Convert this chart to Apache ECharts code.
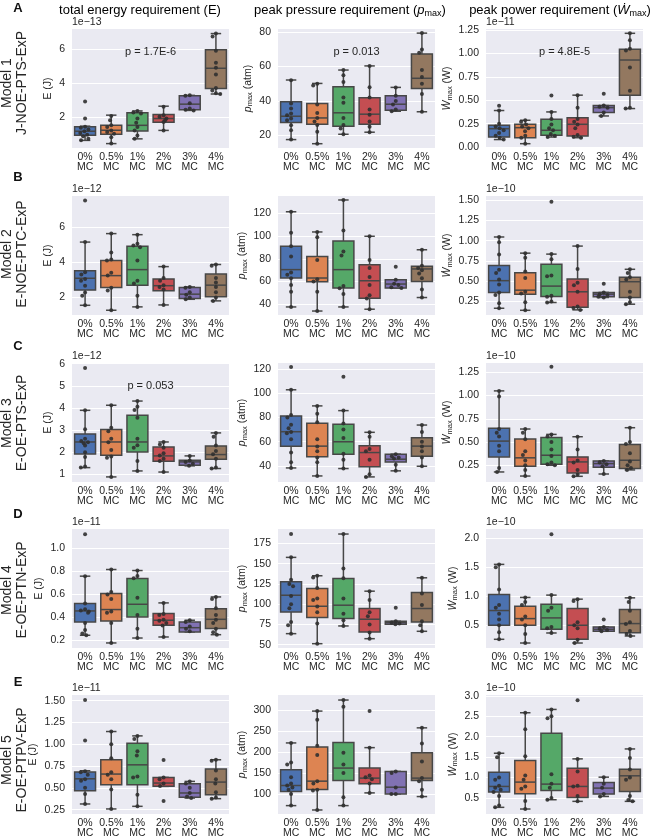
<!DOCTYPE html>
<html>
<head>
<meta charset="utf-8">
<script src="https://cdn.jsdelivr.net/npm/echarts@6/dist/echarts.min.js"></script>
<style>
  html, body { margin: 0; padding: 0; background: #fff; }
  #chart { width: 656px; height: 840px; }
</style>
</head>
<body>
<div id="chart"></div>
<script>
  var categories = ['0%\nMC', '0.5%\nMC', '1%\nMC', '2%\nMC', '3%\nMC', '4%\nMC']
  var modelNames = ['Model 1\nJ-NOE-PTS-ExP', 'Model 2\nE-NOE-PTC-ExP', 'Model 3\nE-OE-PTS-ExP', 'Model 4\nE-OE-PTN-ExP', 'Model 5\nE-OE-PTPV-ExP']
  var rowLetters = ['A', 'B', 'C', 'D', 'E']
  var energyExp = ['1e\u221213', '1e\u221212', '1e\u221212', '1e\u221211', '1e\u221211']
  var powerExp = ['1e\u221211', '1e\u221210', '1e\u221210', '1e\u221210', '1e\u221210']
  var pValues = [
    ['p = 1.7E-6', 'p = 0.013', 'p = 4.8E-5'],
    ['', '', ''],
    ['p = 0.053', '', ''],
    ['', '', ''],
    ['', '', ''],
  ]

  // box stats per group: [lower whisker, Q1, median, Q3, upper whisker]
  // Model 1
  var eBox1 = [[0.61, 0.91, 1.15, 1.41, 1.45], [0.42, 0.97, 1.21, 1.5, 2.1], [0.7, 1.17, 1.5, 2.24, 2.35], [1.2, 1.68, 1.9, 2.14, 2.63], [2.38, 2.42, 2.75, 3.25, 3.27], [3.35, 3.68, 4.87, 5.96, 6.92]]
  var ePts1 = [[2.9, 1.9, 1.42, 1.35, 1.25, 1.15, 1.05, 0.95, 0.85, 0.7, 0.62], [2.05, 1.8, 1.5, 1.4, 1.2, 1.1, 1.0, 0.8, 0.42], [2.35, 2.25, 2.2, 1.9, 1.65, 1.4, 1.2, 0.9, 0.7], [2.6, 2.1, 2.0, 1.9, 1.8, 1.7, 1.2], [3.27, 3.25, 2.8, 2.5, 2.42, 2.38], [6.92, 6.75, 5.9, 5.2, 4.9, 4.5, 3.7, 3.55, 3.4, 3.35]]
  var pBox1 = [[17.5, 27.4, 31.1, 39.5, 52.2], [15.1, 26.4, 30.1, 38.5, 50.2], [20.6, 25.3, 33.1, 48.3, 58], [21.8, 26.4, 32.3, 41.9, 60.4], [34, 34.6, 38.1, 43, 47.9], [33.7, 47.3, 53.2, 67.4, 79.5]]
  var pPts1 = [[52, 38.5, 35.6, 32.7, 31.7, 29.8, 28.8, 25.9, 23, 17.5], [50, 49, 38, 33, 30, 28, 26, 22, 15.1], [58, 55, 51, 42, 39, 30, 26, 24, 20.6], [60.4, 48, 42, 35, 32, 28, 25, 21.8], [47.9, 43, 40, 38, 35, 34], [79.5, 70, 68, 58, 54, 50, 44, 33.7]]
  var wBox1 = [[0.08, 0.107, 0.196, 0.232, 0.39], [0.036, 0.1, 0.207, 0.243, 0.286], [0.107, 0.125, 0.179, 0.296, 0.375], [0.1, 0.118, 0.243, 0.314, 0.554], [0.332, 0.368, 0.421, 0.443, 0.443], [0.411, 0.554, 0.929, 1.043, 1.214]]
  var wPts1 = [[0.44, 0.39, 0.25, 0.22, 0.2, 0.18, 0.15, 0.12, 0.1, 0.08], [0.286, 0.27, 0.24, 0.22, 0.2, 0.17, 0.12, 0.1, 0.036], [0.55, 0.375, 0.3, 0.24, 0.2, 0.18, 0.14, 0.12, 0.107], [0.554, 0.42, 0.3, 0.27, 0.24, 0.2, 0.13, 0.11, 0.1], [0.57, 0.443, 0.43, 0.42, 0.37, 0.332], [1.214, 1.14, 1.05, 1.03, 0.85, 0.6, 0.42, 0.411]]
  // Model 2
  var eBox2 = [[1.56, 2.42, 3.09, 3.52, 5.14], [1.28, 2.57, 3.24, 4.1, 5.62], [1.47, 2.7, 3.58, 4.9, 5.56], [1.58, 2.38, 2.67, 3.05, 3.75], [1.9, 1.94, 2.19, 2.57, 2.6], [1.81, 2.04, 2.7, 3.33, 3.87]]
  var ePts2 = [[7.49, 5.14, 3.43, 3.3, 3.05, 2.95, 2.67, 2.29, 2.1, 1.56], [5.62, 4.55, 4.15, 4.1, 3.4, 3.25, 2.55, 2.4, 1.28], [5.56, 5.05, 4.95, 4.85, 4.1, 2.95, 2.8, 2.1, 1.47], [3.75, 3.1, 2.95, 2.7, 2.6, 2.45, 1.58], [2.6, 2.55, 2.3, 2.15, 2.0, 1.9], [3.87, 3.8, 3.1, 2.85, 2.6, 2.3, 2.0, 1.81]]
  var pBox2 = [[37.6, 63.1, 70.5, 91, 121.5], [34, 59.9, 63.1, 82, 103.7], [37.6, 54.2, 70.5, 95.7, 131.9], [35.6, 45.3, 60.7, 74.7, 99.9], [54.2, 54.2, 57.8, 61.6, 61.6], [45.9, 60.1, 71.1, 73.5, 88]]
  var pPts2 = [[121.5, 103, 91, 82, 68, 66, 63, 57, 51, 37.6], [103.7, 99, 79, 62, 60, 51, 34], [131.9, 105, 86.5, 83, 56, 54, 49, 37.6], [99.9, 79, 72, 64, 57, 48, 45, 35.6], [73, 61.6, 58, 57, 55, 54.2], [88, 74, 72, 70, 67, 63, 53, 45.9]]
  var wBox2 = [[0.167, 0.362, 0.507, 0.693, 1.045], [0.142, 0.341, 0.39, 0.606, 0.846], [0.238, 0.312, 0.44, 0.709, 0.834], [0.147, 0.18, 0.37, 0.527, 0.933], [0.3, 0.308, 0.341, 0.362, 0.362], [0.217, 0.3, 0.494, 0.548, 0.647]]
  var wPts2 = [[1.045, 0.98, 0.83, 0.64, 0.6, 0.52, 0.46, 0.36, 0.33, 0.23, 0.167], [0.846, 0.79, 0.62, 0.54, 0.37, 0.35, 0.24, 0.142], [1.48, 0.834, 0.77, 0.57, 0.56, 0.32, 0.31, 0.25, 0.238], [0.933, 0.65, 0.48, 0.45, 0.37, 0.19, 0.17, 0.147], [0.47, 0.36, 0.34, 0.33, 0.31, 0.3], [0.647, 0.6, 0.55, 0.52, 0.37, 0.3, 0.24, 0.217]]
  // Model 3
  var eBox3 = [[1.3, 1.92, 2.46, 2.82, 3.89], [0.88, 1.86, 2.46, 3.02, 4.12], [1.15, 2.01, 2.46, 3.67, 4.31], [1.1, 1.59, 1.83, 2.23, 2.46], [1.38, 1.41, 1.56, 1.63, 1.83], [1.26, 1.68, 1.89, 2.28, 2.87]]
  var ePts3 = [[5.8, 3.89, 3.03, 2.6, 2.5, 2.45, 2.4, 2.3, 2.0, 1.78, 1.35, 1.3], [4.12, 3.1, 2.95, 2.6, 2.45, 2.1, 1.8, 1.75, 0.88], [4.31, 4.05, 3.9, 3.55, 2.6, 2.31, 2.2, 1.6, 1.15], [2.46, 2.35, 2.2, 1.95, 1.85, 1.7, 1.6, 1.1], [1.83, 1.62, 1.55, 1.48, 1.38], [2.87, 2.7, 2.3, 2.05, 1.9, 1.7, 1.3, 1.26]]
  var pBox3 = [[38.3, 56.3, 68.2, 81.2, 102.8], [31.7, 47.5, 56.3, 75.1, 89.5], [37.8, 49.7, 59.9, 74.3, 85.6], [30.9, 39.2, 51, 56.6, 67.7], [35.9, 43.3, 45.5, 49.7, 49.7], [39.7, 48, 56.3, 63.2, 73.7]]
  var pPts3 = [[121.5, 102.8, 82, 80, 74, 71, 68, 67, 62, 51, 43, 38.3], [89.5, 83, 76, 62, 56, 52, 47, 43, 31.7], [113.5, 85.6, 75, 70, 63, 50, 45, 37.8], [67.7, 64, 54, 52, 45, 33, 30.9], [49.7, 48, 47, 46, 41, 35.9], [73.7, 68, 60, 56, 52, 47, 39.7]]
  var wBox3 = [[0.178, 0.34, 0.51, 0.647, 1.05], [0.134, 0.239, 0.33, 0.532, 0.64], [0.25, 0.261, 0.358, 0.55, 0.582], [0.131, 0.167, 0.286, 0.34, 0.557], [0.156, 0.228, 0.268, 0.297, 0.297], [0.2, 0.214, 0.304, 0.474, 0.654]]
  var wPts3 = [[1.05, 0.99, 0.64, 0.6, 0.56, 0.46, 0.4, 0.22, 0.178], [0.64, 0.6, 0.53, 0.4, 0.36, 0.3, 0.25, 0.2, 0.134], [1.31, 0.582, 0.56, 0.5, 0.42, 0.35, 0.28, 0.26, 0.25], [0.557, 0.42, 0.3, 0.28, 0.2, 0.15, 0.131], [0.297, 0.28, 0.26, 0.24, 0.156], [0.654, 0.5, 0.48, 0.38, 0.29, 0.25, 0.22, 0.2]]
  // Model 4
  var eBox4 = [[0.244, 0.36, 0.456, 0.52, 0.759], [0.177, 0.369, 0.468, 0.607, 0.817], [0.22, 0.404, 0.514, 0.738, 0.808], [0.229, 0.331, 0.375, 0.433, 0.526], [0.273, 0.273, 0.31, 0.36, 0.375], [0.249, 0.302, 0.383, 0.476, 0.578]]
  var ePts4 = [[1.125, 0.759, 0.52, 0.47, 0.46, 0.45, 0.44, 0.35, 0.29, 0.26, 0.244], [0.817, 0.62, 0.6, 0.56, 0.45, 0.44, 0.35, 0.177], [0.808, 0.76, 0.74, 0.57, 0.42, 0.3, 0.22], [0.526, 0.43, 0.42, 0.38, 0.37, 0.35, 0.33, 0.229], [0.375, 0.36, 0.32, 0.3, 0.28], [0.578, 0.56, 0.48, 0.42, 0.38, 0.35, 0.3, 0.27, 0.249]]
  var pBox4 = [[63.6, 90.4, 111, 127.6, 157.7], [51.2, 83.4, 97.4, 119.3, 135], [73.1, 82.2, 98.7, 131.7, 186.5], [57.4, 65.7, 81.4, 94.6, 116], [75.2, 75.2, 77.2, 78.9, 78.9], [66.5, 78, 94.6, 114.4, 132.5]]
  var pPts4 = [[186.5, 157.7, 130, 125, 122, 110, 100, 95, 78, 74, 63.6], [135, 133, 120, 107, 105, 97, 90, 76, 51.2], [186.5, 144, 132, 107, 88, 80, 73.1], [116, 105, 90, 85, 75, 65, 57.4], [95.4, 79, 77, 76, 75.2], [132.5, 113, 99, 79, 74, 66.5]]
  var wBox4 = [[0.258, 0.5, 0.754, 1.03, 1.55], [0.194, 0.5, 0.615, 0.829, 0.98], [0.367, 0.431, 0.627, 0.863, 1.02], [0.194, 0.258, 0.5, 0.788, 0.95], [0.396, 0.396, 0.431, 0.471, 0.471], [0.315, 0.373, 0.529, 0.771, 0.973]]
  var wPts4 = [[1.55, 1.5, 1.117, 0.85, 0.8, 0.7, 0.6, 0.5, 0.38, 0.258], [0.98, 0.9, 0.85, 0.65, 0.6, 0.5, 0.35, 0.194], [2.07, 1.02, 0.8, 0.75, 0.47, 0.45, 0.367], [0.95, 0.92, 0.55, 0.5, 0.45, 0.25, 0.194], [0.598, 0.47, 0.44, 0.42, 0.396], [0.973, 0.9, 0.75, 0.55, 0.52, 0.4, 0.35, 0.315]]
  // Model 5
  var eBox5 = [[0.315, 0.467, 0.604, 0.681, 0.696], [0.258, 0.536, 0.658, 0.822, 1.146], [0.288, 0.536, 0.764, 1.012, 1.096], [0.517, 0.517, 0.555, 0.62, 0.62], [0.383, 0.391, 0.441, 0.547, 0.574], [0.376, 0.421, 0.566, 0.715, 0.822]]
  var ePts5 = [[1.508, 1.043, 0.69, 0.68, 0.65, 0.6, 0.58, 0.5, 0.43, 0.315], [1.146, 1.0, 0.84, 0.68, 0.65, 0.6, 0.48, 0.258], [1.096, 1.06, 0.92, 0.87, 0.63, 0.62, 0.42, 0.288], [0.82, 0.62, 0.6, 0.55, 0.52, 0.35], [0.574, 0.55, 0.5, 0.44, 0.4, 0.383], [0.822, 0.81, 0.7, 0.6, 0.55, 0.45, 0.39, 0.376]]
  var pBox5 = [[72, 105.6, 120, 157.6, 221.6], [61.6, 110.4, 130.4, 212, 297.6], [72, 132, 161.6, 222.4, 324], [102.4, 124, 137.6, 161.6, 210.4], [100, 100, 116, 153.6, 153.6], [93.6, 132, 137.6, 198.4, 257.6]]
  var pPts5 = [[221.6, 175, 170, 140, 125, 120, 115, 110, 100, 72], [297.6, 277, 215, 193, 130, 125, 110, 108, 61.6], [324, 308, 198, 170, 150, 92, 72], [297.6, 210.4, 144, 140, 135, 125, 102.4], [153.6, 150, 115, 100, 100], [257.6, 220, 177, 138, 130, 110, 93.6]]
  var wBox5 = [[0.273, 0.646, 0.784, 1.133, 1.596], [0.232, 0.606, 0.89, 1.417, 2.586], [0.459, 0.687, 0.841, 2.083, 2.667], [0.419, 0.516, 0.784, 1.23, 1.458], [0.54, 0.597, 0.743, 0.881, 1.011], [0.419, 0.662, 1.044, 1.206, 1.701]]
  var wPts5 = [[1.596, 1.5, 1.0, 0.95, 0.8, 0.75, 0.7, 0.65, 0.55, 0.32, 0.273], [2.586, 2.18, 1.52, 1.05, 0.95, 0.78, 0.73, 0.43, 0.232], [2.667, 2.5, 2.45, 1.08, 0.85, 0.75, 0.5, 0.459], [2.89, 1.458, 1.15, 0.8, 0.78, 0.55, 0.419], [1.011, 0.85, 0.75, 0.6, 0.54], [1.701, 1.48, 1.2, 1.0, 0.95, 0.55, 0.45, 0.419]]

  var boxes = [[eBox1, pBox1, wBox1], [eBox2, pBox2, wBox2], [eBox3, pBox3, wBox3], [eBox4, pBox4, wBox4], [eBox5, pBox5, wBox5]]
  var points = [[ePts1, pPts1, wPts1], [ePts2, pPts2, wPts2], [ePts3, pPts3, wPts3], [ePts4, pPts4, wPts4], [ePts5, pPts5, wPts5]]

  // y axis: [min, max, tick step, decimals]
  var yLimits = [
    [[0.16, 7.19, 2, 0], [12.6, 81.9, 20, 0], [-0.01, 1.26, 0.25, 2]],
    [[1.01, 7.75, 2, 0], [30.5, 135.4, 20, 0], [0.084, 1.55, 0.25, 2]],
    [[0.65, 6.03, 1, 0], [26.7, 124.9, 20, 0], [0.07, 1.35, 0.25, 2]],
    [[0.133, 1.17, 0.2, 1], [45.9, 192.7, 25, 0], [0.108, 2.16, 0.5, 1]],
    [[0.2, 1.565, 0.25, 2], [52, 336, 50, 0], [0.11, 3.02, 0.5, 1]],
  ]

  var colLeft = [72, 278, 486]
  var colWidth = 157
  var rowTop = [29, 196, 363, 529, 695]
  var rowHeight = 119
  var rowLabelY = [83, 254, 423, 590, 760]
  var titleX = [140, 350, 560]

  var palette = ['#4C72B0', '#DD8452', '#55A868', '#C44E52', '#8172B3', '#937860']
  var edgeColor = '#474747'
  var textColor = '#262626'
  var fontFamily = '"Liberation Sans", Arial, "DejaVu Sans", sans-serif'
  var fs = 10.5

  var subRich = {
    n: { fontSize: fs, lineHeight: 13, color: textColor },
    i: { fontSize: fs, lineHeight: 13, fontStyle: 'italic', color: textColor },
    s: { fontSize: 7.5, lineHeight: 7.5, verticalAlign: 'bottom', color: textColor },
  }
  var yNames = ['{n|E (J)}', '{i|p}{s|max}{n| (atm)}', '{i|\u1E86}{s|max}{n| (W)}']

  function renderBox(params, api) {
    var i = api.value(0)
    var lo = api.coord([i, api.value(1)])
    var q1 = api.coord([i, api.value(2)])
    var md = api.coord([i, api.value(3)])
    var q3 = api.coord([i, api.value(4)])
    var hi = api.coord([i, api.value(5)])
    var w = api.size([1, 0])[0] * 0.8
    var cx = lo[0]
    var cap = w / 4
    var line = { stroke: edgeColor, lineWidth: 1.5 }
    return {
      type: 'group',
      children: [
        { type: 'line', shape: { x1: cx, y1: q1[1], x2: cx, y2: lo[1] }, style: line },
        { type: 'line', shape: { x1: cx, y1: q3[1], x2: cx, y2: hi[1] }, style: line },
        { type: 'line', shape: { x1: cx - cap, y1: lo[1], x2: cx + cap, y2: lo[1] }, style: line },
        { type: 'line', shape: { x1: cx - cap, y1: hi[1], x2: cx + cap, y2: hi[1] }, style: line },
        {
          type: 'rect',
          shape: { x: cx - w / 2, y: q3[1], width: w, height: q1[1] - q3[1] },
          style: { fill: palette[i], stroke: edgeColor, lineWidth: 1.5 },
        },
        { type: 'line', shape: { x1: cx - w / 2, y1: md[1], x2: cx + w / 2, y2: md[1] }, style: line },
      ],
    }
  }

  function labelWidth(lim) {
    var top = Math.floor(lim[1] / lim[2]) * lim[2]
    var s = top.toFixed(lim[3])
    return s.replace('.', '').length * 5.84 + (s.indexOf('.') >= 0 ? 2.92 : 0)
  }

  var grids = [], xAxes = [], yAxes = [], series = [], graphics = []

  for (var r = 0; r < 5; r++) {
    for (var c = 0; c < 3; c++) {
      var k = grids.length
      var lim = yLimits[r][c]
      grids.push({
        left: colLeft[c], top: rowTop[r], width: colWidth, height: rowHeight,
        show: true, backgroundColor: '#EAEAF2', borderWidth: 0,
        outerBoundsMode: 'none',
      })
      xAxes.push({
        gridIndex: k, type: 'category', data: categories,
        axisLine: { show: false }, axisTick: { show: false }, splitLine: { show: false },
        axisLabel: { interval: 0, margin: 4, color: textColor, fontSize: fs, lineHeight: 10, fontFamily: fontFamily },
        jitter: 12, jitterOverlap: false, jitterMargin: 0.4,
      })
      yAxes.push({
        gridIndex: k, type: 'value',
        min: lim[0], max: lim[1], minInterval: lim[2], maxInterval: lim[2],
        axisLine: { show: false }, axisTick: { show: false },
        splitLine: { lineStyle: { color: '#ffffff', width: 1 }, showMinLine: false, showMaxLine: false },
        axisLabel: {
          showMinLabel: false, showMaxLabel: false, margin: 7,
          color: textColor, fontSize: fs, fontFamily: fontFamily,
          formatter: (function (d) { return function (v) { return v.toFixed(d) } })(lim[3]),
        },
        name: yNames[c], nameLocation: 'middle', nameRotate: 90,
        nameGap: 12 + labelWidth(lim),
        nameTextStyle: { fontFamily: fontFamily, rich: subRich },
      })

      var boxData = boxes[r][c].map(function (b, i) { return [i, b[0], b[1], b[2], b[3], b[4]] })
      series.push({
        type: 'custom', xAxisIndex: k, yAxisIndex: k, z: 2,
        renderItem: renderBox, encode: { x: 0, y: [1, 2, 3, 4, 5] },
        data: boxData, silent: true,
      })
      var ptData = []
      points[r][c].forEach(function (grp, i) {
        grp.forEach(function (v) { ptData.push([i, v]) })
      })
      series.push({
        type: 'scatter', xAxisIndex: k, yAxisIndex: k, z: 3,
        symbolSize: 4, itemStyle: { color: '#303030', opacity: 0.9 },
        data: ptData, silent: true,
      })

      var exps = c === 0 ? energyExp : c === 2 ? powerExp : null
      if (exps) {
        graphics.push({
          type: 'text', x: colLeft[c], y: rowTop[r] - 1,
          style: { text: exps[r], fill: textColor, font: fs + 'px ' + fontFamily, textAlign: 'left', textVerticalAlign: 'bottom' },
        })
      }
      if (pValues[r][c]) {
        graphics.push({
          type: 'text', x: colLeft[c] + colWidth / 2, y: rowTop[r] + 23, z: 10,
          style: { text: pValues[r][c], fill: textColor, font: '11px ' + fontFamily, textAlign: 'center', textVerticalAlign: 'middle' },
        })
      }
    }

    graphics.push({
      type: 'text', x: 18, y: [8, 177, 346, 514, 682][r],
      style: { text: rowLetters[r], fill: '#111', font: 'bold 13px ' + fontFamily, textAlign: 'center', textVerticalAlign: 'middle' },
    })
    graphics.push({
      type: 'text', x: 15, y: rowLabelY[r], rotation: Math.PI / 2,
      style: { text: modelNames[r], fill: textColor, font: '14px ' + fontFamily, lineHeight: 15, textAlign: 'center', textVerticalAlign: 'middle' },
    })
  }

  var titleRich = {
    n: { fontSize: 13, lineHeight: 16, color: textColor, fontFamily: fontFamily },
    i: { fontSize: 13, lineHeight: 16, fontStyle: 'italic', color: textColor, fontFamily: fontFamily },
    s: { fontSize: 9, lineHeight: 9, verticalAlign: 'bottom', color: textColor, fontFamily: fontFamily },
  }
  var titles = ['{n|total energy requirement (E)}', '{n|peak pressure requirement (}{i|p}{s|max}{n|)}', '{n|peak power requirement (}{i|\u1E86}{s|max}{n|)}']
  titles.forEach(function (t, c) {
    graphics.push({
      type: 'text', x: titleX[c], y: 10,
      style: { text: t, rich: titleRich, textAlign: 'center', textVerticalAlign: 'middle' },
    })
  })

  var chart = echarts.init(document.getElementById('chart'), null, { renderer: 'canvas' })
  chart.setOption({
    animation: false,
    backgroundColor: '#ffffff',
    textStyle: { fontFamily: fontFamily },
    grid: grids,
    xAxis: xAxes,
    yAxis: yAxes,
    series: series,
    graphic: graphics,
  })
</script>
</body>
</html>
